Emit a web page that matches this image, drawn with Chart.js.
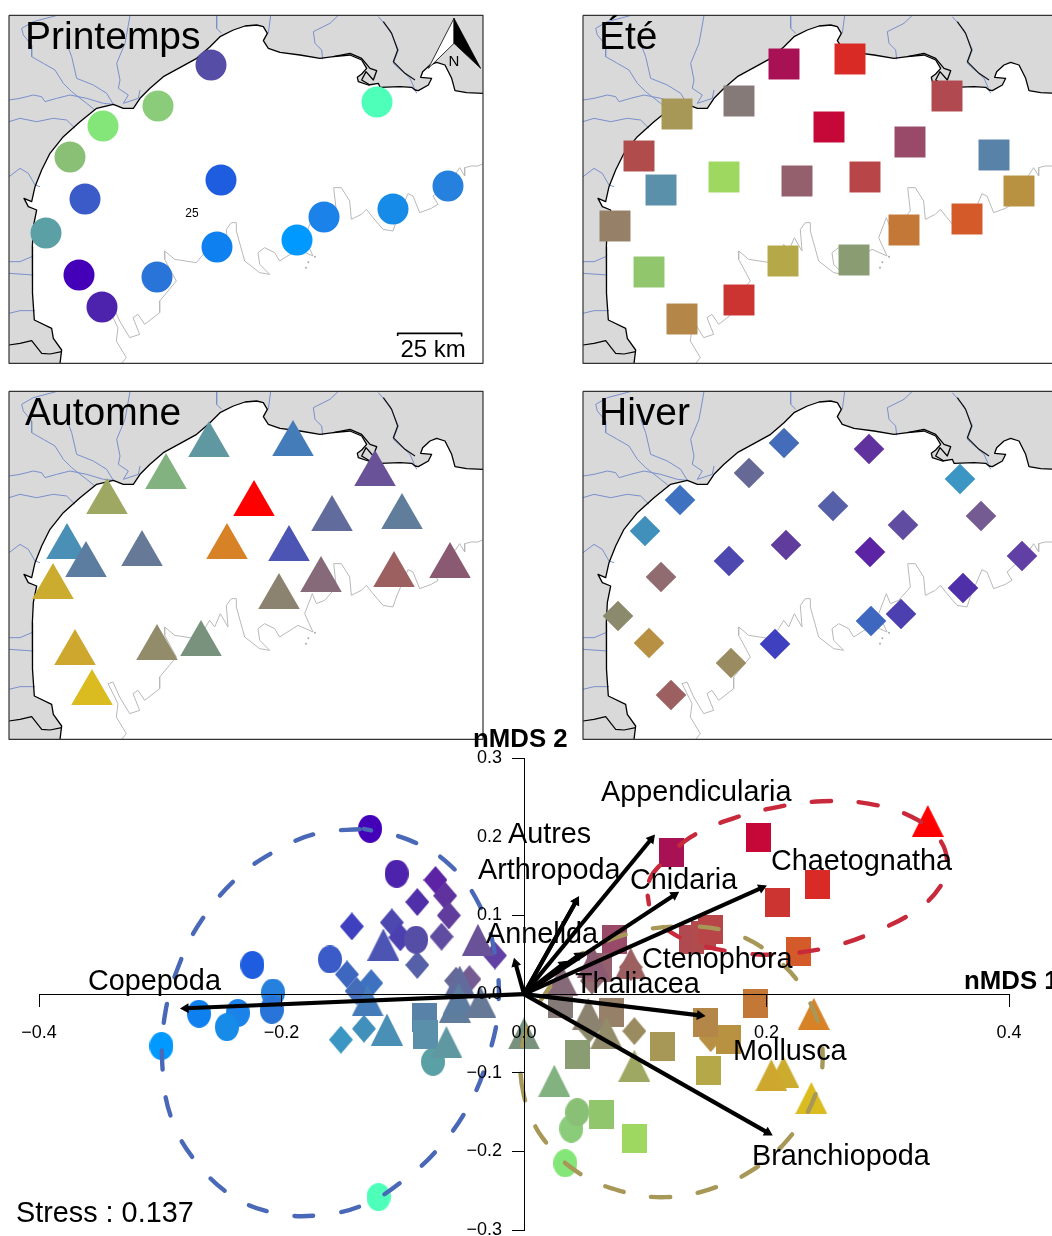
<!doctype html>
<html><head><meta charset="utf-8">
<script src="https://cdn.jsdelivr.net/npm/chart.js@4/dist/chart.umd.js"></script>
<style>
html,body{margin:0;padding:0;background:#fff;overflow:hidden;width:1052px;height:1236px}
#fig{position:relative;width:1052px;height:1236px;overflow:hidden}
canvas{position:absolute}
</style></head><body><div id="fig">
<canvas id="mapA" width="478" height="352" style="left:7px;top:13px"></canvas>
<canvas id="mapB" width="478" height="352" style="left:581px;top:13px"></canvas>
<canvas id="mapC" width="478" height="352" style="left:7px;top:389px"></canvas>
<canvas id="mapD" width="478" height="352" style="left:581px;top:389px"></canvas>
<canvas id="ord" width="1052" height="524" style="left:0;top:720px"></canvas>
</div>
<script>
// ---------- stations: map position, ordination position, colour ----------
const springMapX=[211,377,158,103,70,221,85,448,324,393,297,217,46,157,79,102];
const springMapY=[65,102,106,126,157,180,199,186,217,209,240,247,233,277,275,307];
const springOrdX=[-0.089,-0.120,0.039,0.034,0.044,-0.224,-0.160,-0.207,-0.236,-0.245,-0.299,-0.268,-0.075,-0.208,-0.127,-0.105];
const springOrdY=[0.069,-0.258,-0.171,-0.215,-0.150,0.037,0.044,0.002,-0.024,-0.042,-0.066,-0.025,-0.086,-0.020,0.210,0.153];
const springColors=['#564ea6','#4dffb8','#8acc7a','#84e678','#8ac076','#1f5de0','#3a5bc8','#2680dd','#1a82e8','#168ce8','#0099ff','#0e80f0','#5aa0a5','#2874d8','#4400b8','#4d22ad'];

const summerMapX=[210,276,373,103,165,255,336,65,420,87,150,223,291,445,330,393,41,75,209,280,165,108];
const summerMapY=[64,59,96,114,101,127,142,156,155,190,177,181,177,191,230,219,226,272,261,260,300,319];
const summerOrdX=[0.122,0.242,0.138,0.114,0.030,0.193,0.075,0.148,-0.082,-0.081,0.091,0.062,0.154,0.169,0.191,0.226,0.072,0.064,0.152,0.044,0.209,0.150];
const summerOrdY=[0.180,0.139,0.070,-0.067,-0.012,0.199,0.070,0.075,-0.030,-0.051,-0.183,0.034,0.082,-0.058,-0.012,0.054,-0.024,-0.153,-0.097,-0.077,0.117,-0.036];
const summerColors=['#a81254','#da2a25','#b04a50','#a89858','#857a78','#c50838','#984a68','#b04c4c','#5882a8','#5a90aa','#9ed860','#94606e','#b84648','#b89240','#c47838','#d45a2a','#978068','#92c66c','#b5a848','#8a9c72','#cc3432','#b48648'];

const autumnMapX=[209,293,166,375,107,254,332,402,67,86,142,227,289,450,53,321,394,279,157,201,75,92];
const autumnMapY=[69,68,101,98,126,128,143,141,171,189,178,171,173,190,211,204,199,221,272,268,277,317];
const autumnOrdX=[-0.064,-0.129,0.025,-0.038,0.091,0.333,-0.053,-0.057,-0.113,-0.054,-0.036,0.239,-0.116,0.057,0.214,0.031,0.088,0.053,0.068,0.000,0.204,0.237];
const autumnOrdY=[-0.061,-0.008,-0.110,0.069,-0.091,0.220,0.016,-0.016,-0.045,-0.006,-0.010,-0.025,0.063,0.041,-0.099,0.018,0.039,-0.025,-0.049,-0.050,-0.103,-0.132];
const autumnColors=['#5f98a0','#447cba','#82b280','#6a5298','#9ea862','#ff0000','#626c9c','#607e9c','#4a90b6','#5c7ca0','#667a98','#d88228','#4c54b4','#8a5a72','#ccac2e','#866a7a','#9c6060','#8c8270','#928c6a','#78927e','#cea82e','#dabc20'];

const winterMapX=[210,295,386,175,106,259,407,329,71,212,155,296,448,87,389,44,297,327,75,201,157,97];
const winterMapY=[67,73,103,97,124,130,140,149,155,169,185,176,180,201,212,240,245,238,267,268,287,319];
const winterOrdX=[-0.138,-0.065,-0.151,-0.056,-0.126,-0.088,-0.045,-0.068,-0.132,-0.062,-0.109,-0.073,-0.024,0.056,-0.088,0.054,-0.146,-0.102,0.154,-0.142,0.091,0.088];
const winterOrdY=[0.004,0.125,-0.058,0.017,0.014,0.037,0.019,0.073,-0.044,0.100,0.091,0.145,0.049,0.017,0.117,-0.044,0.025,0.072,-0.056,0.086,-0.047,0.034];
const winterColors=['#446cb8','#60329e','#3c96c4','#666896','#3e72c0','#5560a8','#745c92','#604ca0','#4190bc','#603c9c','#4c48b0','#5c24a4','#6040a4','#906c70','#5030a8','#8c8a6c','#3e68c0','#4c40b0','#b89044','#3e40c0','#9a8c60','#9c6060'];

// ---------- taxa arrows ----------
const taxa=['Appendicularia','Autres','Arthropoda','Cnidaria','Chaetognatha','Annelida','Ctenophora','Thaliacea','Copepoda','Mollusca','Branchiopoda'];
const arrowX=[0.105,0.043,0.043,0.124,0.196,-0.007,0.045,0.032,-0.279,0.145,0.201];
const arrowY=[0.197,0.118,0.118,0.126,0.135,0.039,0.049,0.038,-0.018,-0.027,-0.176];
const taxaLabelX=[601,508,478,630,771,486,642,575,88,733,752];
const taxaLabelY=[801,843,879,889,870,943,968,993,990,1060,1165];

// ---------- dashed ellipses ----------
const blueEllipseX=[-0.132,-0.095,-0.061,-0.036,-0.024,-0.021,-0.028,-0.045,-0.070,-0.098,-0.131,-0.169,-0.206,-0.240,-0.270,-0.290,-0.298,-0.296,-0.283,-0.265,-0.237,-0.206,-0.171,-0.132];
const blueEllipseY=[0.210,0.196,0.164,0.111,0.051,-0.012,-0.072,-0.140,-0.195,-0.235,-0.267,-0.281,-0.278,-0.257,-0.214,-0.161,-0.097,-0.025,0.043,0.096,0.147,0.181,0.204,0.210];
const redEllipseX=[0.102,0.104,0.115,0.138,0.172,0.210,0.246,0.284,0.320,0.342,0.349,0.343,0.323,0.289,0.253,0.213,0.181,0.140,0.115,0.105,0.102];
const redEllipseY=[0.125,0.147,0.168,0.200,0.223,0.238,0.245,0.242,0.225,0.198,0.166,0.136,0.106,0.079,0.060,0.051,0.052,0.065,0.085,0.104,0.125];
const oliveEllipseX=[-0.002,0.002,0.015,0.043,0.079,0.117,0.153,0.188,0.218,0.240,0.246,0.233,0.208,0.173,0.130,0.082,0.044,0.019,0.003,-0.003,-0.002];
const oliveEllipseY=[-0.114,-0.140,-0.182,-0.225,-0.250,-0.258,-0.248,-0.224,-0.184,-0.129,-0.066,-0.002,0.045,0.077,0.086,0.075,0.047,0.004,-0.042,-0.085,-0.114];

const xTickValues=[-0.4,-0.2,0,0.2,0.4];
const xTickLabels=['\u22120.4','\u22120.2','0.0','0.2','0.4'];
const yTickValues=[-0.3,-0.2,-0.1,0,0.1,0.2,0.3];
const yTickLabels=['\u22120.3','\u22120.2','\u22120.1','0.0','0.1','0.2','0.3'];

// ---------- base map, in thirds of a map unit ----------
const coast=[[1449,280],[1400,278],[1365,272],[1355,235],[1335,195],[1310,187],[1290,195],[1268,215],[1262,232],[1295,235],[1285,255],[1255,272],[1245,270],[1235,262],[1200,260],[1140,262],[1135,250],[1105,255],[1075,245],[1072,232],[1085,222],[1100,205],[1085,180],[1050,165],[1000,170],[960,175],[900,165],[840,157],[805,145],[790,122],[802,100],[790,80],[770,75],[735,78],[700,90],[660,110],[630,140],[590,175],[545,200],[490,230],[450,265],[420,295],[400,325],[370,325],[340,313],[290,325],[240,365],[190,410],[150,460],[125,510],[105,560],[95,605],[72,595],[85,620],[110,630],[100,680],[97,740],[98,800],[97,880],[103,960],[155,985],[160,1015],[185,1050],[180,1090]];
const landClosure=[[27,1090],[27,46],[1449,46],[1449,280]];
const borderLine=[[27,1035],[60,1030],[95,1022],[125,1060],[150,1062],[185,1055]];
const estuary=[[1000,170],[1050,160],[1085,175],[1110,205],[1130,212],[1120,240],[1098,215],[1085,240],[1110,255]];
const darkRiver=[[1150,65],[1175,100],[1193,150],[1180,185],[1215,220],[1245,240]];
const rivers=[
 [[27,300],[60,295],[100,285],[125,290],[135,305],[170,295],[210,285],[260,295],[310,310],[340,313]],
 [[172,46],[100,65],[65,85],[70,105],[95,135],[95,170],[130,190],[165,210],[190,250],[215,275],[260,310],[285,330]],
 [[200,130],[215,170],[230,235],[280,255],[320,280],[340,313]],
 [[390,46],[385,75],[375,130],[350,190],[360,240],[355,265],[385,285],[370,310],[415,295],[420,270]],
 [[27,365],[60,355],[110,365],[160,355],[200,360],[225,385]],
 [[27,530],[60,505],[85,520],[105,555],[120,560]],
 [[650,46],[650,85],[665,100]],
 [[812,46],[805,100]],
 [[1015,46],[990,70],[940,95],[945,130],[965,150],[968,178]],
 [[1135,50],[1170,90],[1195,150],[1180,190],[1230,235],[1250,280]],
 [[27,785],[60,785],[100,768]],
 [[27,820],[100,825]],
 [[27,940],[60,932],[105,932]]
];
const isobath=[[1449,491],[1434,498],[1414,498],[1394,503],[1394,528],[1379,503],[1359,533],[1299,588],[1314,613],[1294,625],[1259,638],[1239,588],[1224,581],[1189,663],[1179,693],[1149,688],[1119,653],[1099,628],[1084,643],[1054,658],[1049,603],[1024,563],[1001,563],[1009,633],[974,673],[949,683],[937,653],[914,713],[939,768],[894,748],[839,783],[824,758],[794,743],[774,758],[779,793],[809,823],[779,818],[734,783],[709,693],[709,668],[694,668],[679,688],[684,753],[661,713],[644,753],[629,733],[614,758],[589,788],[524,778],[494,753],[494,778],[529,843],[479,903],[479,938],[434,973],[414,943],[399,953],[419,1003],[389,1013],[359,963],[339,918],[324,923],[354,983],[349,1023],[379,1073],[364,1091]];
const isobathDots=[[918,803],[925,787],[945,770]];
const frame=[[27,46],[1449,46],[1449,1090],[27,1090],[27,46]];
const northWhite=[[1362,55],[1285,205],[1362,130],[1362,55]];
const northBlack=[[1362,55],[1442,205],[1362,130],[1362,55]];
const scaleBar=[[1193,1008],[1193,1000],[1385,1000],[1385,1008]];

const FONT='"Liberation Sans", Arial, sans-serif';
const pts=a=>a.map(([x,y])=>({x:x/3,y:y/3}));
const zip=(xs,ys)=>xs.map((x,i)=>({x,y:ys[i]}));

const line=(data,color,width,extra)=>Object.assign({data:pts(data),showLine:true,borderColor:color,borderWidth:width,pointRadius:0,clip:false,tension:0,fill:false,borderJoinStyle:'round'},extra||{});

function baseLayers(){
  const ds=[];
  ds.push(line(coast.concat(landClosure),'rgba(0,0,0,0)',0,{backgroundColor:'#d9d9d9',fill:'shape'}));
  rivers.forEach(r=>ds.push(line(r,'#7a90cc',1)));
  ds.push(line(isobath,'#b8b8b8',1));
  ds.push({data:pts(isobathDots),showLine:false,pointRadius:1,pointBackgroundColor:'#aaa',pointBorderWidth:0,clip:false});
  ds.push(line(coast,'#000',1.3));
  ds.push(line(estuary,'#000',1.3));
  ds.push(line(darkRiver,'#111',1.2));
  ds.push(line(borderLine,'#000',1.2));
  ds.push(line(frame,'#333',1.2));
  return ds;
}

const textPlugin=items=>({id:'texts',afterDraw(chart){
  const {ctx,scales:{x,y}}=chart;
  ctx.save();ctx.fillStyle='#000';ctx.textBaseline='alphabetic';
  items.forEach(t=>{ctx.font=(t.weight||'normal')+' '+t.size+'px '+FONT;ctx.textAlign=t.align||'left';
    ctx.fillText(t.text,x.getPixelForValue(t.x),y.getPixelForValue(t.y));});
  ctx.restore();
}});

function mapChart(id,xs,ys,colors,style,radius,extraLayers,texts){
  const stations={data:zip(xs,ys),showLine:false,pointStyle:style,pointRadius:radius,pointBackgroundColor:colors,pointBorderWidth:0,clip:false};
  const layers=baseLayers().concat(extraLayers||[]).concat([stations]);
  new Chart(document.getElementById(id),{type:'scatter',
    data:{datasets:layers.reverse()},
    options:{responsive:false,animation:false,events:[],devicePixelRatio:1,layout:{padding:2,autoPadding:false},
      plugins:{legend:{display:false},tooltip:{enabled:false}},
      scales:{x:{type:'linear',min:9,max:483,display:false},y:{type:'linear',min:15,max:363,reverse:true,display:false}}},
    plugins:[textPlugin(texts)]});
}

const northLayers=[
  line(northWhite,'#000',0.8,{backgroundColor:'#fff',fill:'shape'}),
  line(northBlack,'#000',0.8,{backgroundColor:'#000',fill:'shape'}),
  line(scaleBar,'#000',1.6)
];
mapChart('mapA',springMapX,springMapY,springColors,'circle',15.5,northLayers,[
  {text:'Printemps',x:25,y:48.5,size:39},{text:'25',x:192,y:216.5,size:12,align:'center'},
  {text:'25 km',x:400.5,y:357,size:24},{text:'N',x:454,y:66,size:15,align:'center'}]);
mapChart('mapB',summerMapX,summerMapY,summerColors,'rect',21.9,[],[{text:'Été',x:25,y:48.5,size:39}]);
mapChart('mapC',autumnMapX,autumnMapY,autumnColors,'triangle',24,[],[{text:'Automne',x:25,y:48.5,size:39}]);
mapChart('mapD',winterMapX,winterMapY,winterColors,'rectRot',15.3,[],[{text:'Hiver',x:25,y:48.5,size:39}]);

// ---------- ordination ----------
function marker(shape,color,w,h){
  const c=document.createElement('canvas');c.width=w;c.height=h;const g=c.getContext('2d');g.fillStyle=color;g.beginPath();
  if(shape==='ellipse')g.ellipse(w/2,h/2,w/2,h/2,0,0,Math.PI*2);
  else if(shape==='rect')g.rect(0,0,w,h);
  else if(shape==='diamond'){g.moveTo(w/2,0);g.lineTo(w,h/2);g.lineTo(w/2,h);g.lineTo(0,h/2);g.closePath();}
  else {g.moveTo(w/2,0);g.lineTo(w,h);g.lineTo(0,h);g.closePath();}
  g.fill();return c;
}
const group=(xs,ys,colors,shape,w,h)=>({data:zip(xs,ys),showLine:false,pointRadius:3,pointBorderWidth:0,clip:false,
  pointStyle:colors.map(c=>marker(shape,c,w,h))});
const ell=(xs,ys,color,offset)=>({data:zip(xs,ys),showLine:true,pointRadius:0,borderColor:color,borderWidth:4.4,borderDash:[19,28],borderDashOffset:offset,
  borderCapStyle:'round',tension:0.4,fill:false,clip:false});
const arrows=taxa.map((t,i)=>({data:[{x:0,y:0},{x:arrowX[i],y:arrowY[i]}],showLine:true,borderColor:'#000',borderWidth:4.1,
  pointRadius:[0,4.6],pointStyle:'triangle',pointBackgroundColor:'#000',pointBorderColor:'#000',pointBorderWidth:1.2,clip:false,
  pointRotation(c){const s=c.chart.scales;const dx=s.x.getPixelForValue(arrowX[i])-s.x.getPixelForValue(0);
    const dy=s.y.getPixelForValue(arrowY[i])-s.y.getPixelForValue(0);return Math.atan2(dx,-dy)*180/Math.PI;}}));

const ordLayers=[
  group(winterOrdX,winterOrdY,winterColors,'diamond',24,28),
  group(springOrdX,springOrdY,springColors,'ellipse',24,28),
  group(summerOrdX,summerOrdY,summerColors,'rect',25,29),
  group(autumnOrdX,autumnOrdY,autumnColors,'triangle',32,32),
  ell(blueEllipseX,blueEllipseY,'#4a68b8',12),
  ell(redEllipseX,redEllipseY,'#c82a3c',32),
  ell(oliveEllipseX,oliveEllipseY,'#a89858',2)
].concat(arrows);

const gridOn={drawOnChartArea:false,drawTicks:true,tickLength:12,color:'#000',lineWidth:1,z:1};
const borderOn={display:true,color:'#000',width:1,z:1};
const ordPlugin={id:'ordTexts',afterDraw(chart){
  const ctx=chart.ctx;ctx.save();ctx.fillStyle='#000';ctx.textBaseline='alphabetic';ctx.textAlign='left';
  ctx.font='28.8px '+FONT;
  taxa.forEach((t,i)=>ctx.fillText(t,taxaLabelX[i],taxaLabelY[i]-720));
  ctx.fillText('Stress : 0.137',16,1222-720);
  ctx.font='bold 25.8px '+FONT;
  ctx.fillText('nMDS 2',473,747-720);
  ctx.fillText('nMDS 1',964,989-720);
  ctx.restore();
}};
new Chart(document.getElementById('ord'),{type:'scatter',
  data:{datasets:ordLayers.reverse()},
  options:{responsive:false,animation:false,events:[],devicePixelRatio:1,
    layout:{padding:{left:39,right:43,top:38,bottom:7},autoPadding:false},
    plugins:{legend:{display:false},tooltip:{enabled:false}},
    scales:{
      x:{type:'linear',grid:gridOn,border:borderOn,min:-0.4,max:0.4,position:{y:0},
        afterBuildTicks(s){s.ticks=xTickValues.map(v=>({value:v}));},
        ticks:{autoSkip:false,maxRotation:0,padding:16,color:'#000',font:{size:18,family:FONT},z:1,
          callback:v=>xTickLabels[xTickValues.findIndex(t=>Math.abs(t-v)<1e-6)]}},
      y:{type:'linear',grid:gridOn,border:borderOn,min:-0.3,max:0.3,position:{x:0},
        afterBuildTicks(s){s.ticks=yTickValues.map(v=>({value:v}));},
        ticks:{display:false}},
      yLabels:{type:'linear',axis:'y',min:-0.3,max:0.3,position:{x:-0.0181},grid:{display:false},border:{display:false},
        afterBuildTicks(s){s.ticks=yTickValues.map(v=>({value:v}));},
        ticks:{autoSkip:false,color:'#000',font:{size:18,family:FONT},z:1,
          callback:v=>yTickLabels[yTickValues.findIndex(t=>Math.abs(t-v)<1e-6)]}}
    }},
  plugins:[ordPlugin]});
</script></body></html>
